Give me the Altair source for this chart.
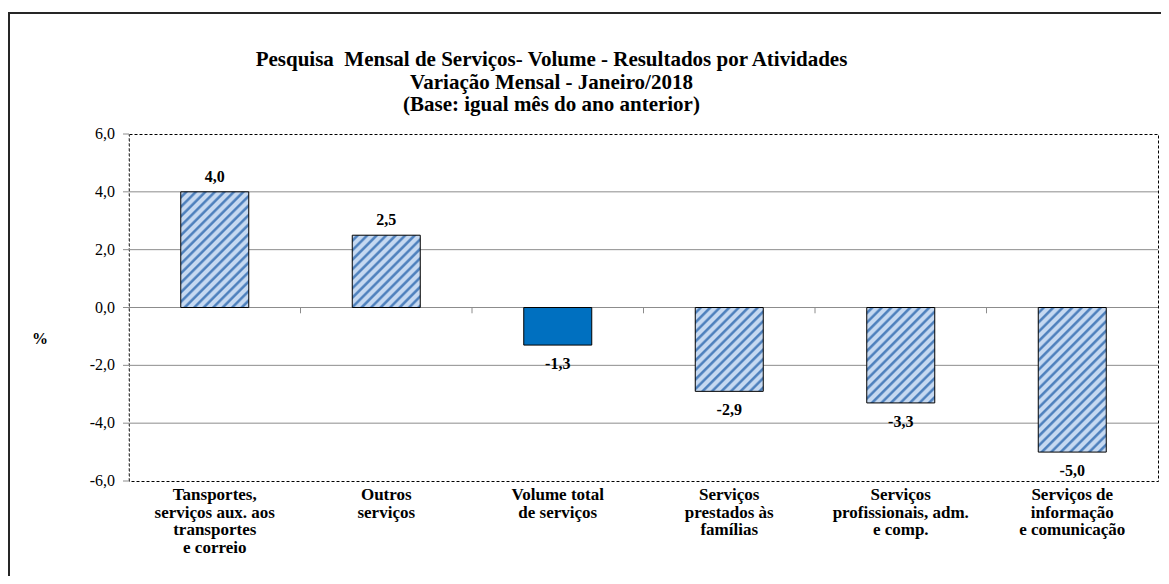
import altair as alt
import pandas as pd

# ---- data ----
categories = [
    "Tansportes,|serviços aux. aos|transportes|e correio",
    "Outros|serviços",
    "Volume total|de serviços",
    "Serviços|prestados às|famílias",
    "Serviços|profissionais, adm.|e comp.",
    "Serviços de|informação|e comunicação",
]
values = [4.0, 2.5, -1.3, -2.9, -3.3, -5.0]
kinds = ["hatch", "hatch", "solid", "hatch", "hatch", "hatch"]
grid_values = [-4, -2, 0, 2, 4]
y_ticks = [-6, -4, -2, 0, 2, 4, 6]
y_title = "%"
title_lines = [
    "Pesquisa\u00a0 Mensal de Serviços- Volume - Resultados por Atividades",
    "Variação Mensal - Janeiro/2018",
    "(Base: igual mês do ano anterior)",
]

# ---- layout / style ----
FONT = "Liberation Serif"
W, H = 1029, 347
BAR = 68
Y_MIN, Y_MAX = -6, 6
LIGHT = "#c6d9f1"
DARK = "#4f81bd"
SOLID = "#0070c0"
GRID = "#8c8c8c"


def fmt(v):
    return f"{v:.1f}".replace(".", ",")


df = pd.DataFrame({
    "cat": categories,
    "val": values,
    "kind": kinds,
    "lab": [fmt(v) for v in values],
})
grid_df = pd.DataFrame({"g": grid_values})
tick_df = pd.DataFrame({"cat": categories[1:]})
cat_df = pd.DataFrame({"cat": categories})
ytick_df = pd.DataFrame({"t": y_ticks, "lab": [fmt(v) for v in y_ticks]})

xscale = alt.Scale(domain=categories, paddingInner=0, paddingOuter=0)
yscale = alt.Scale(domain=[Y_MIN, Y_MAX], nice=False, zero=False)


def stripe_fill(v):
    h = abs(v) * H / (Y_MAX - Y_MIN)
    w = float(BAR)
    k = (w + h) / (w * w + h * h)
    period = 9.5 / (w + h)
    stops = []
    t = 0.0
    pattern = [(0.0, LIGHT), (0.3, LIGHT), (0.5, DARK), (0.68, DARK), (0.88, LIGHT)]
    while t < 1.0 + period:
        for off, col in pattern:
            o = t + off * period
            if o <= 1.0:
                stops.append({"offset": round(o, 5), "color": col})
        t += period
    stops.append({"offset": 1.0, "color": LIGHT})
    return {"gradient": "linear", "x1": 0, "y1": 0,
            "x2": round(w * k, 5), "y2": round(h * k, 5), "stops": stops}


grid = alt.Chart(grid_df).mark_rule(color=GRID, strokeWidth=1).encode(
    y=alt.Y("g:Q", scale=yscale, axis=None)
)

bar_layers = []
for c, v, kd in zip(categories, values, kinds):
    fill = SOLID if kd == "solid" else stripe_fill(v)
    bar_layers.append(
        alt.Chart(df).transform_filter(alt.datum.cat == c).mark_bar(
            size=BAR, fill=fill, stroke="black", strokeWidth=1
        ).encode(
            x=alt.X("cat:N", scale=xscale, axis=None, sort=categories),
            y=alt.Y("val:Q", scale=yscale, axis=None),
        )
    )

zero_ticks = alt.Chart(tick_df).mark_rule(color=GRID, strokeWidth=1).encode(
    x=alt.X("cat:N", scale=xscale, axis=None, bandPosition=0, sort=categories),
    y=alt.Y(datum=0, axis=None),
    y2=alt.Y2(datum=-0.2),
)

text_pos = alt.Chart(df).transform_filter(alt.datum.val > 0).mark_text(
    baseline="bottom", dy=-7, font=FONT, fontSize=16, fontWeight="bold", color="black"
).encode(
    x=alt.X("cat:N", scale=xscale, axis=None, sort=categories),
    y=alt.Y("val:Q", scale=yscale, axis=None),
    text="lab:N",
)
text_neg = alt.Chart(df).transform_filter(alt.datum.val < 0).mark_text(
    baseline="top", dy=11, font=FONT, fontSize=16, fontWeight="bold", color="black"
).encode(
    x=alt.X("cat:N", scale=xscale, axis=None, sort=categories),
    y=alt.Y("val:Q", scale=yscale, axis=None),
    text="lab:N",
)

cat_labels = alt.Chart(cat_df).mark_text(
    baseline="top", dy=6, font=FONT, fontSize=17, fontWeight="bold", color="black",
    lineBreak="|", lineHeight=17.5, align="center",
).encode(
    x=alt.X("cat:N", scale=xscale, axis=None, sort=categories),
    y=alt.Y(datum=Y_MIN, axis=None),
    text="cat:N",
)

# y axis drawn from the tick list
y_domain = alt.Chart(pd.DataFrame({"d": [0]})).mark_rule(
    color=GRID, strokeWidth=1, strokeDash=[3, 2]
).encode(x=alt.value(0), y=alt.Y(datum=Y_MIN, axis=None), y2=alt.Y2(datum=Y_MAX))
y_tickmarks = alt.Chart(ytick_df).mark_rule(color=GRID, strokeWidth=1).encode(
    x=alt.value(-6), x2=alt.value(0), y=alt.Y("t:Q", scale=yscale, axis=None)
)
y_labels = alt.Chart(ytick_df).mark_text(
    align="right", baseline="middle", font=FONT, fontSize=16, color="black"
).encode(x=alt.value(-14), y=alt.Y("t:Q", scale=yscale, axis=None), text="lab:N")
y_title_mark = alt.Chart(pd.DataFrame({"lab": [y_title]})).mark_text(
    align="center", baseline="middle", font=FONT, fontSize=16, fontWeight="bold",
    color="black"
).encode(x=alt.value(-89), y=alt.value(205), text="lab:N")

frame = alt.Chart(pd.DataFrame({"d": [0]})).mark_rect(
    fillOpacity=0, stroke="#262626", strokeWidth=2
).encode(x=alt.value(-120), x2=alt.value(1400), y=alt.value(-121), y2=alt.value(800))

chart = alt.layer(
    grid, *bar_layers, zero_ticks, text_pos, text_neg, cat_labels,
    y_domain, y_tickmarks, y_labels, y_title_mark, frame,
).properties(
    width=W, height=H,
    autosize=alt.AutoSizeParams(type="none"),
    padding={"left": 121, "top": 126, "right": 3, "bottom": 95},
    title=alt.TitleParams(
        text=title_lines, font=FONT, fontSize=21, fontWeight="bold", color="black",
        anchor="middle", dx=-92, offset=-103, lineHeight=22.5, frame="group",
    ),
).configure_view(stroke="black", strokeDash=[3, 2], strokeWidth=1)

chart.save("out.html", embed_options={"renderer": "svg", "actions": False})
